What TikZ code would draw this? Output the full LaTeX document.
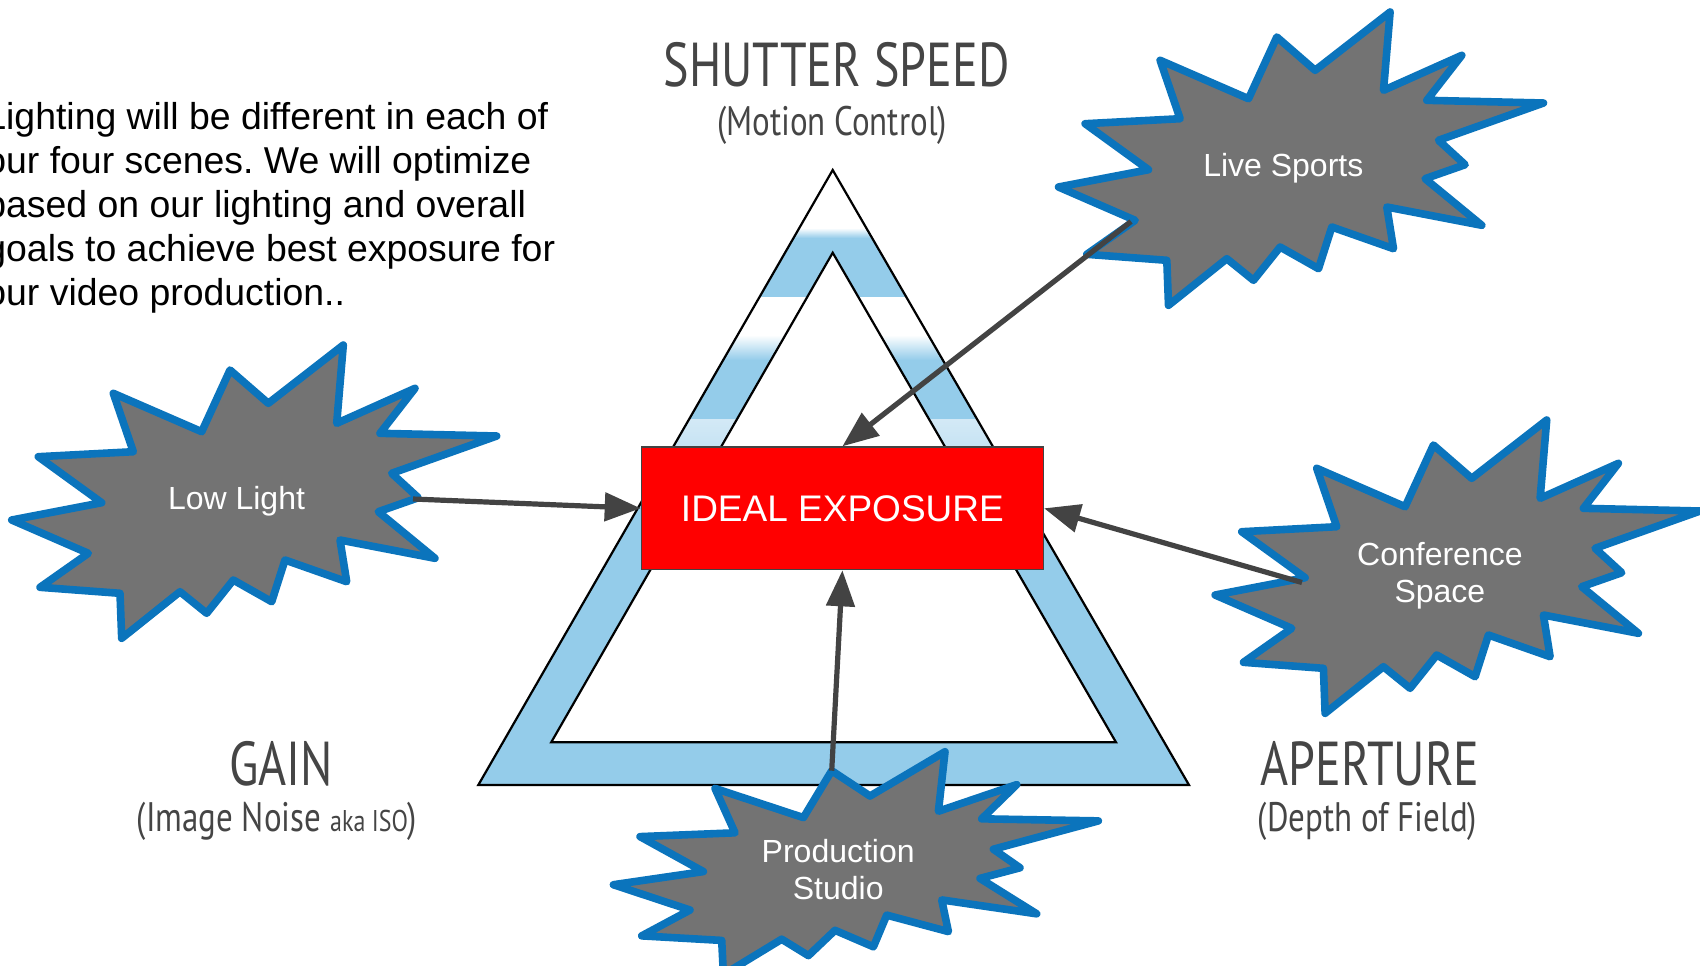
\documentclass[tikz,border=0pt]{standalone}
\usepackage{fontspec}
\setmainfont{Liberation Sans}
\newfontfamily\titlefont[FakeStretch=0.775]{PT Sans}
\newfontfamily\subfont[FakeStretch=0.8]{PT Sans}
\usetikzlibrary{arrows.meta}
\definecolor{bandblue}{HTML}{94CCEA}
\definecolor{palebl}{HTML}{D3E9F6}
\definecolor{starblue}{HTML}{0B74BC}
\definecolor{stargray}{HTML}{737373}
\definecolor{arrgray}{HTML}{434343}
\definecolor{titlegray}{HTML}{454545}
\frenchspacing
\tikzset{
  burststyle/.style={fill=stargray, draw=starblue, line width=3.8pt, line join=round},
  burst/.pic={
    \filldraw[burststyle] (106.8,-152.5) -- (100.2,-74.2) -- (178.5,-109.2) -- (143.5,-64.2) -- (260.2,-61.5) -- (155.2,-24.2) -- (181.8,0.2) -- (141.8,14.2) -- (198.5,60.8) -- (103.5,42.5) -- (110.2,84.2) -- (48.5,62.5) -- (35.2,104.2) -- (-3.2,82.5) -- (-29.8,115.8) -- (-56.5,94.2) -- (-114.8,140.8) -- (-116.5,95.8) -- (-196.5,89.8) -- (-148.2,55.8) -- (-224.8,22.5) -- (-134.8,5.2) -- (-198.2,-40.8) -- (-103.2,-45.8) -- (-123.2,-104.2) -- (-34.8,-65.8) -- (-6.5,-127.5) -- (31.8,-94.2) -- cycle;
  },
  burstlabel/.style={text=white, align=center, inner sep=0pt, font=\fontsize{16pt}{18.8pt}\selectfont},
  idealbox/.style={fill=red, draw=arrgray, line width=0.8pt, minimum width=200.9pt, minimum height=61.2pt, text=white, inner sep=0pt, font=\fontsize{18.5pt}{22pt}\selectfont},
  arr/.style={draw=arrgray, line width=2.6pt, -{Triangle[length=18pt,width=14pt,fill=arrgray]}},
  bigtitle/.style={anchor=base, text=titlegray, inner sep=0pt, font=\titlefont\fontsize{31pt}{36pt}\selectfont},
  subtitle/.style={anchor=base, text=titlegray, inner sep=0pt, font=\subfont\fontsize{20.6pt}{24pt}\selectfont},
  outline/.style={draw=black, line width=1.1pt, line join=miter}
}
\begin{document}
\begin{tikzpicture}[x=0.5pt,y=-0.5pt]
\useasboundingbox (0,0) rectangle (1700,965);
\clip (0,0) rectangle (1700,965);
% triangle
\coordinate (OA) at (832.7,170);
\coordinate (OL) at (478.3,785);
\coordinate (OR) at (1189,785);
\coordinate (IA) at (832.7,252.7);
\coordinate (IL) at (551.2,742.3);
\coordinate (IR) at (1116,742.3);
\begin{scope}
  \clip (OA) -- (OL) -- (OR) -- cycle;
  \fill[bandblue] (400,150) rectangle (1250,800);
  \fill[white] (400,150) rectangle (1250,228);
  \shade[top color=white, bottom color=bandblue] (400,228) rectangle (1250,238);
  \fill[white] (400,296.5) rectangle (1250,335);
  \shade[top color=white, bottom color=bandblue] (400,335) rectangle (1250,360);
  \shade[top color=palebl, bottom color=palebl!80!bandblue] (400,419) rectangle (1250,447);
\end{scope}
\fill[white] (IA) -- (IL) -- (IR) -- cycle;
\draw[outline] (OA) -- (OL) -- (OR) -- cycle;
\draw[outline] (IA) -- (IL) -- (IR) -- cycle;
% central box
\node[idealbox] (ie) at (842.4,508.3) {IDEAL EXPOSURE};
% bursts
\pic at (236.5,497.5) {burst};
\pic at (1283.3,164.5) {burst};
\pic at (1439.9,572.5) {burst};
\pic[yscale=0.76] at (838.2,867.6) {burst};
\node[burstlabel] (ll) at (236.5,500.8) {Low Light};
\node[burstlabel] (ls) at (1283.3,167.8) {Live Sports};
\node[burstlabel] (cs) at (1439.9,575.8) {Conference\\Space};
\node[burstlabel] (ps) at (838.2,869.5) {Production\\Studio};
\coordinate (llp) at (413,499);
\coordinate (lsp) at (1131,221.5);
\coordinate (csp) at (1302,582.5);
\coordinate (psp) at (831.7,770.7);
% connectors
\draw[arr] (llp) -- (ie.west);
\draw[arr] (lsp) -- (ie.north);
\draw[arr] (csp) -- (ie.east);
\draw[arr] (psp) -- (ie.south);
% titles
\node[bigtitle] (sst) at (836.5,86.7) {SHUTTER SPEED};
\node[subtitle] (sss) at (832,135) {(Motion Control)};
\node[bigtitle] (gt) at (281,785) {GAIN};
\node[subtitle] (gs) at (277,831.7) {(Image Noise {\fontsize{15pt}{17pt}\selectfont aka ISO})};
\node[bigtitle] (at) at (1370,785) {APERTURE};
\node[subtitle] (as) at (1367.5,831.7) {(Depth of Field)};
% paragraph
\node[anchor=north west, align=left, inner sep=0pt, font=\fontsize{18.7pt}{22pt}\selectfont] (para) at (-15,102)
  {Lighting will be different in each of\\our four scenes. We will optimize\\based on our lighting and overall\\goals to achieve best exposure for\\our video production..};
\end{tikzpicture}
\end{document}
